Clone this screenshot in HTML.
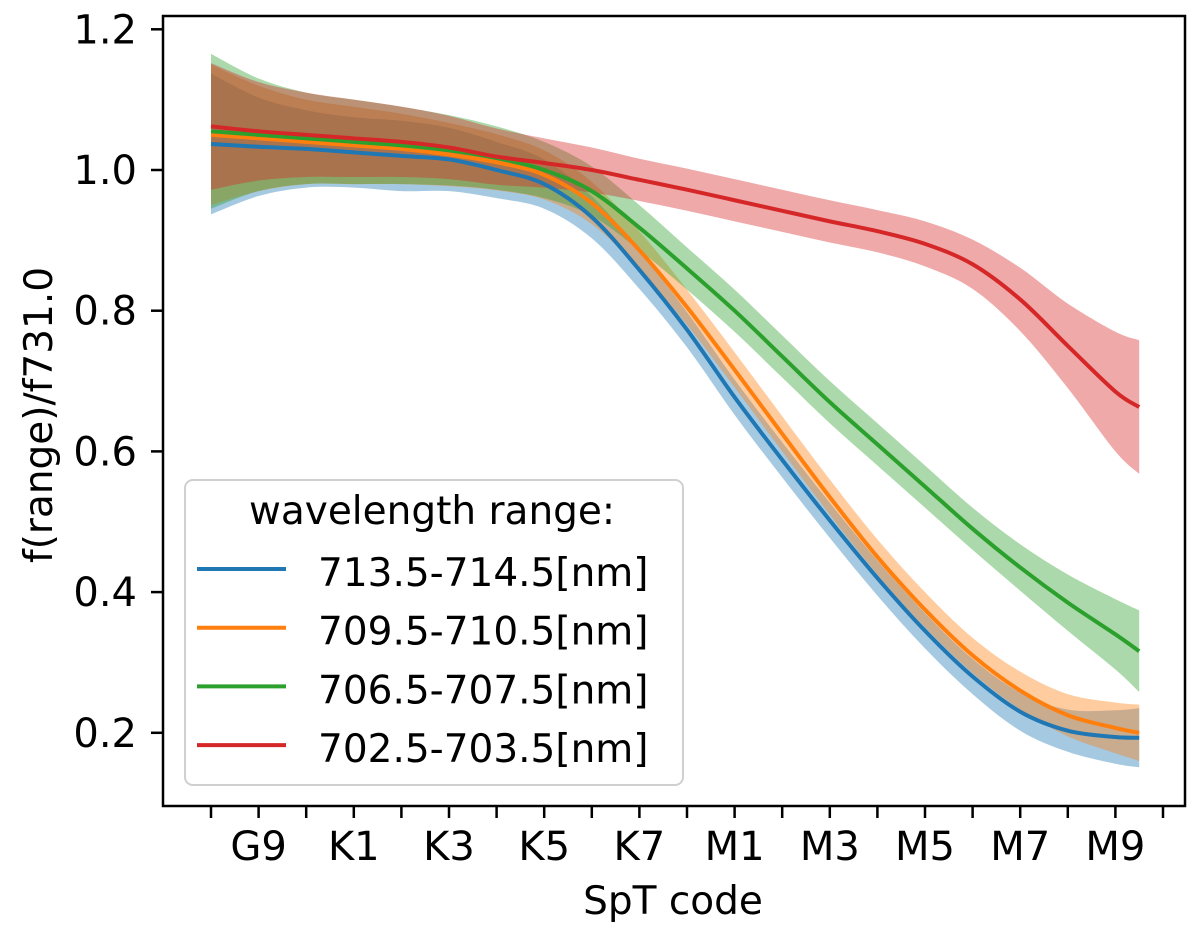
<!DOCTYPE html>
<html>
<head>
<meta charset="utf-8">
<style>
  html,body{margin:0;padding:0;background:#fff;}
  svg{display:block;font-family:"DejaVu Sans","Liberation Sans",sans-serif;}
</style>
</head>
<body>
<svg id="chart" width="1200" height="930" viewBox="0 0 1200 930" xmlns="http://www.w3.org/2000/svg">
  <g id="bands"></g>
  <g id="lines"></g>
  <rect x="163" y="16" width="1022" height="790" fill="none" stroke="#000" stroke-width="2.5"/>
  <g id="yticks"></g>
  <g id="xticks"></g>
  <text x="673" y="914" font-size="39" text-anchor="middle">SpT code</text>
  <text transform="translate(52,415) rotate(-90)" font-size="39" text-anchor="middle">f(range)/f731.0</text>
  <g id="legend">
    <rect x="185" y="480" width="498" height="305" rx="8" fill="#fff" fill-opacity="0.85" stroke="#d0d0d0" stroke-width="2"/>
    <text x="432" y="524" font-size="39" text-anchor="middle">wavelength range:</text>
  </g>
</svg>
<script>
const xIdx = [0,1,2,3,4,5,6,7,8,9,10,11,12,13,14,15,16,17,18,19,19.5];
const xTickLabels = ['G9','K1','K3','K5','K7','M1','M3','M5','M7','M9'];
const xTickLabelIdx = [1,3,5,7,9,11,13,15,17,19];
const yTicks = [0.2,0.4,0.6,0.8,1.0,1.2];
const seriesNames = ['713.5-714.5[nm]','709.5-710.5[nm]','706.5-707.5[nm]','702.5-703.5[nm]'];
const blueVals = [1.037,1.033,1.03,1.025,1.02,1.015,1.0,0.98,0.933,0.858,0.773,0.677,0.588,0.502,0.42,0.345,0.28,0.23,0.203,0.194,0.193];
const orangeVals = [1.05,1.045,1.04,1.035,1.03,1.022,1.011,0.993,0.953,0.886,0.805,0.716,0.625,0.535,0.45,0.375,0.31,0.26,0.225,0.207,0.20];
const greenVals = [1.055,1.05,1.045,1.04,1.035,1.028,1.017,1.0,0.97,0.918,0.86,0.80,0.735,0.67,0.61,0.55,0.49,0.435,0.385,0.34,0.316];
const redVals = [1.062,1.055,1.05,1.045,1.04,1.032,1.019,1.01,1.0,0.986,0.972,0.957,0.942,0.927,0.913,0.895,0.866,0.816,0.75,0.685,0.663];
const blueErr = [0.10,0.07,0.055,0.05,0.05,0.045,0.04,0.035,0.03,0.027,0.025,0.025,0.025,0.025,0.025,0.025,0.025,0.027,0.03,0.038,0.042];
const orangeErr = [0.10,0.075,0.06,0.055,0.05,0.045,0.04,0.035,0.03,0.027,0.025,0.025,0.025,0.025,0.025,0.025,0.025,0.027,0.03,0.036,0.04];
const greenErr = [0.11,0.08,0.065,0.06,0.055,0.05,0.045,0.04,0.035,0.032,0.03,0.03,0.03,0.03,0.03,0.03,0.03,0.033,0.04,0.05,0.058];
const redErr = [0.09,0.07,0.06,0.055,0.05,0.045,0.04,0.035,0.032,0.03,0.03,0.03,0.03,0.03,0.03,0.032,0.035,0.045,0.06,0.085,0.095];
const colors = ['#1f77b4','#ff7f0e','#2ca02c','#d62728'];

const NS = 'http://www.w3.org/2000/svg';
function xScale(i){ return 211 + 47.6*i; }
function yScale(v){ return 170 + (1 - v)*703.5; }
function mk(tag, attrs, parent){ const e=document.createElementNS(NS,tag); for(const k in attrs) e.setAttribute(k,attrs[k]); parent.appendChild(e); return e; }
function smooth(pts, move){
  let d = move ? 'M'+pts[0][0].toFixed(2)+','+pts[0][1].toFixed(2) : 'L'+pts[0][0].toFixed(2)+','+pts[0][1].toFixed(2);
  for(let i=0;i<pts.length-1;i++){
    const p0=pts[Math.max(0,i-1)], p1=pts[i], p2=pts[i+1], p3=pts[Math.min(pts.length-1,i+2)];
    const c1=[p1[0]+(p2[0]-p0[0])/6, p1[1]+(p2[1]-p0[1])/6];
    const c2=[p2[0]-(p3[0]-p1[0])/6, p2[1]-(p3[1]-p1[1])/6];
    d+=' C'+c1[0].toFixed(2)+','+c1[1].toFixed(2)+' '+c2[0].toFixed(2)+','+c2[1].toFixed(2)+' '+p2[0].toFixed(2)+','+p2[1].toFixed(2);
  }
  return d;
}
const allVals=[blueVals,orangeVals,greenVals,redVals];
const allErr=[blueErr,orangeErr,greenErr,redErr];
const bandG=document.getElementById('bands'), lineG=document.getElementById('lines');
for(let s=0;s<4;s++){
  const up=xIdx.map((x,i)=>[xScale(x),yScale(allVals[s][i]+allErr[s][i])]);
  const lo=xIdx.map((x,i)=>[xScale(x),yScale(allVals[s][i]-allErr[s][i])]).reverse();
  const band=mk('path',{d:smooth(up,true)+' '+smooth(lo,false)+' Z',fill:colors[s],'fill-opacity':0.4,stroke:'none'},bandG);
  
  
}
for(let s=0;s<4;s++){
  const pts=xIdx.map((x,i)=>[xScale(x),yScale(allVals[s][i])]);
  const ln=mk('path',{d:smooth(pts,true),fill:'none',stroke:colors[s],'stroke-width':4},lineG);
  
  
}
const yg=document.getElementById('yticks');
yTicks.forEach(v=>{
  const y=yScale(v);
  const t=mk('line',{x1:151,x2:163,y1:y,y2:y,stroke:'#000','stroke-width':2.5},yg);
  
  
  const l=mk('text',{x:137,y:y+14,'font-size':40,'text-anchor':'end'},yg);
  l.textContent=v.toFixed(1);
  
  
});
const xg=document.getElementById('xticks');
for(let i=0;i<=20;i++){
  const x=xScale(i);
  const t=mk('line',{x1:x,x2:x,y1:806,y2:818,stroke:'#000','stroke-width':2.5},xg);
  
  
}
xTickLabels.forEach((lab,k)=>{
  const l=mk('text',{x:xScale(xTickLabelIdx[k]),y:860,'font-size':40,'text-anchor':'middle'},xg);
  l.textContent=lab;
  
  
});
const lg=document.getElementById('legend');
seriesNames.forEach((n,k)=>{
  const y=569+58.7*k;
  const ln=mk('line',{x1:197,x2:286,y1:y,y2:y,stroke:colors[k],'stroke-width':4},lg);
  
  
  const t=mk('text',{x:318,y:y+17,'font-size':39},lg);
  t.textContent=n;
  
  
});
</script>
</body>
</html>
